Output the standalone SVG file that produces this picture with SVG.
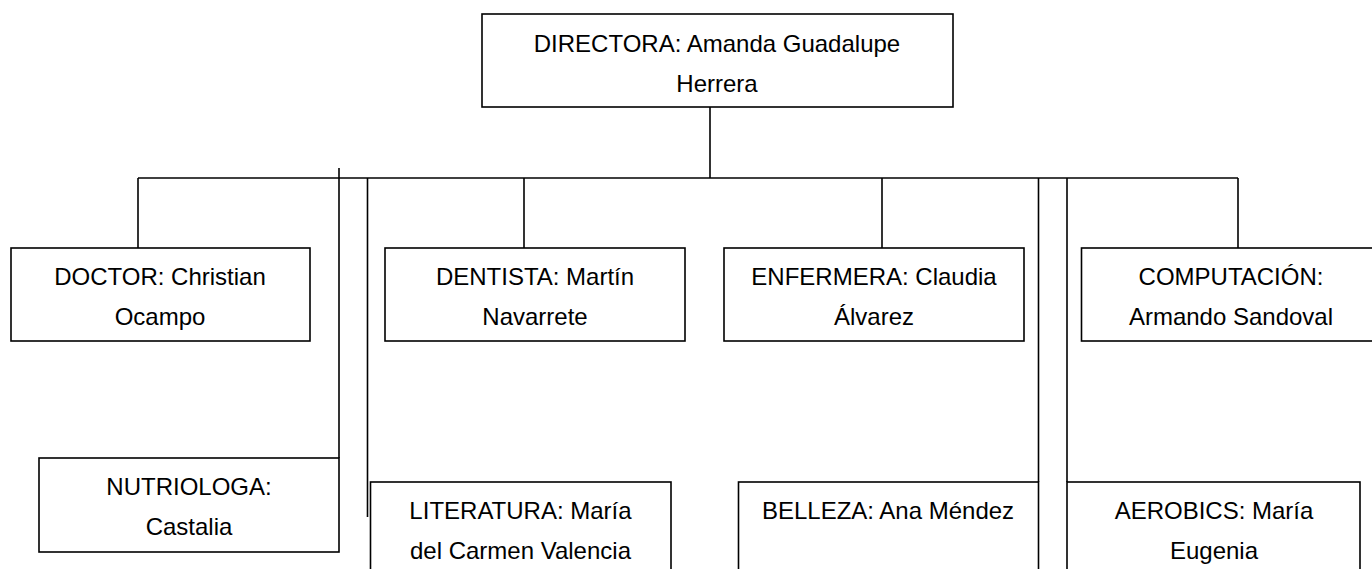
<svg xmlns="http://www.w3.org/2000/svg" width="1372" height="569" viewBox="0 0 1372 569">
<style>
.box{fill:#fff;stroke:#000;stroke-width:1.6}
.ln{stroke:#000;stroke-width:1.6;fill:none}
.t{font-family:"Liberation Sans",Arial,sans-serif;font-size:24px;fill:#000;text-anchor:middle}
</style>
<rect width="1372" height="569" fill="#fff"/>
<g id="connectors">
<line class="ln" x1="710" y1="107" x2="710" y2="178"/>
<line class="ln" x1="138" y1="178" x2="1238" y2="178"/>
<line class="ln" x1="138" y1="178" x2="138" y2="248"/>
<line class="ln" x1="339" y1="168" x2="339" y2="458"/>
<line class="ln" x1="367.5" y1="178" x2="367.5" y2="517"/>
<line class="ln" x1="524" y1="178" x2="524" y2="248"/>
<line class="ln" x1="882" y1="178" x2="882" y2="248"/>
<line class="ln" x1="1038.5" y1="178" x2="1038.5" y2="482"/>
<line class="ln" x1="1067" y1="178" x2="1067" y2="482"/>
<line class="ln" x1="1238" y1="178" x2="1238" y2="248"/>
</g>
<g id="directora">
<rect class="box" x="482" y="14" width="471" height="93"/>
<text class="t" x="717" y="52">DIRECTORA: Amanda Guadalupe</text>
<text class="t" x="717" y="92">Herrera</text>
</g>
<g id="doctor">
<rect class="box" x="11" y="248" width="299" height="93"/>
<text class="t" x="160" y="285">DOCTOR: Christian</text>
<text class="t" x="160" y="325">Ocampo</text>
</g>
<g id="dentista">
<rect class="box" x="385" y="248" width="300" height="93"/>
<text class="t" x="535" y="285">DENTISTA: Martín</text>
<text class="t" x="535" y="325">Navarrete</text>
</g>
<g id="enfermera">
<rect class="box" x="724" y="248" width="300" height="93"/>
<text class="t" x="874" y="285">ENFERMERA: Claudia</text>
<text class="t" x="874" y="325">Álvarez</text>
</g>
<g id="computacion">
<rect class="box" x="1081.5" y="248" width="300" height="93"/>
<text class="t" x="1231" y="285">COMPUTACIÓN:</text>
<text class="t" x="1231" y="325">Armando Sandoval</text>
</g>
<g id="nutriologa">
<rect class="box" x="39" y="458" width="300" height="94"/>
<text class="t" x="189" y="495">NUTRIOLOGA:</text>
<text class="t" x="189" y="535">Castalia</text>
</g>
<g id="literatura">
<rect class="box" x="370.5" y="482" width="300.5" height="100"/>
<text class="t" x="520.5" y="519">LITERATURA: María</text>
<text class="t" x="520.5" y="559">del Carmen Valencia</text>
</g>
<g id="belleza">
<rect class="box" x="738.5" y="482" width="300" height="100"/>
<text class="t" x="888" y="519">BELLEZA: Ana Méndez</text>
</g>
<g id="aerobics">
<rect class="box" x="1067" y="482" width="293" height="100"/>
<text class="t" x="1214" y="519">AEROBICS: María</text>
<text class="t" x="1214" y="559">Eugenia</text>
</g>
</svg>
